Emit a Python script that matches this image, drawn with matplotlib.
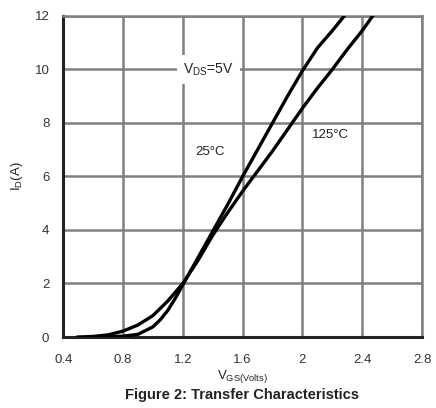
import matplotlib
matplotlib.use("Agg")
import matplotlib.pyplot as plt

plt.rcParams["font.family"] = ["Liberation Sans", "DejaVu Sans"]

# Transfer characteristics
vgs_25 = [0.6, 0.7, 0.8, 0.9, 1.0, 1.05, 1.1, 1.15, 1.2, 1.3, 1.4, 1.5,
          1.6, 1.7, 1.8, 1.9, 2.0, 2.1, 2.2, 2.28]
id_25 = [0.0, 0.01, 0.03, 0.1, 0.38, 0.65, 1.0, 1.45, 1.95, 2.95, 3.95, 4.95,
         6.0, 7.0, 8.0, 9.0, 9.95, 10.8, 11.45, 12.0]

vgs_125 = [0.5, 0.6, 0.7, 0.8, 0.9, 1.0, 1.1, 1.2, 1.3, 1.4, 1.5, 1.6,
           1.7, 1.8, 1.9, 2.0, 2.1, 2.2, 2.3, 2.4, 2.47]
id_125 = [0.0, 0.02, 0.08, 0.22, 0.45, 0.8, 1.35, 2.0, 2.85, 3.8, 4.65, 5.45,
          6.2, 6.95, 7.75, 8.55, 9.3, 10.0, 10.75, 11.45, 12.0]

x_ticks = [0.4, 0.8, 1.2, 1.6, 2.0, 2.4, 2.8]
x_labels = ["0.4", "0.8", "1.2", "1.6", "2", "2.4", "2.8"]
y_ticks = [0, 2, 4, 6, 8, 10, 12]

fig = plt.figure(figsize=(4.36, 4.08), dpi=100)
ax = fig.add_axes([0.145, 0.174, 0.823, 0.787])

ax.plot(vgs_25, id_25, color="black", lw=2.4, solid_joinstyle="round", zorder=3)
ax.plot(vgs_125, id_125, color="black", lw=2.4, solid_joinstyle="round", zorder=3)

ax.set_xlim(0.4, 2.8)
ax.set_ylim(0, 12)
ax.set_xticks(x_ticks)
ax.set_xticklabels(x_labels)
ax.set_yticks(y_ticks)
ax.grid(True, color="#808080", lw=1.8)
ax.set_axisbelow(True)
ax.tick_params(length=0, labelsize=9.5, labelcolor="#333333")
ax.tick_params(axis="x", pad=12)
ax.tick_params(axis="y", pad=10)

for side in ("top", "right"):
    ax.spines[side].set_color("#808080")
    ax.spines[side].set_linewidth(1.8)
for side in ("left", "bottom"):
    ax.spines[side].set_color("#222222")
    ax.spines[side].set_linewidth(2.2)

ax.text(1.37, 10.0, r"V$_{\mathregular{DS}}$=5V", fontsize=10, ha="center",
        va="center", color="#222222",
        bbox=dict(facecolor="white", edgecolor="none", pad=4.5), zorder=4)
ax.text(1.38, 6.9, "25°C", fontsize=9.5, ha="center", va="center", color="#222222")
ax.text(2.19, 7.55, "125°C", fontsize=9.5, ha="center", va="center", color="#222222")

ax.set_ylabel(r"I$_{\mathregular{D}}$(A)", fontsize=9.5, color="#222222", labelpad=7)
ax.set_xlabel(r"V$_{\mathregular{GS(Volts)}}$", fontsize=9.5, color="#222222", labelpad=2)

fig.text(0.555, 0.015, "Figure 2: Transfer Characteristics", ha="center",
         va="bottom", fontsize=10.5, fontweight="bold", color="#222222")

fig.savefig("out.png", dpi=100)
